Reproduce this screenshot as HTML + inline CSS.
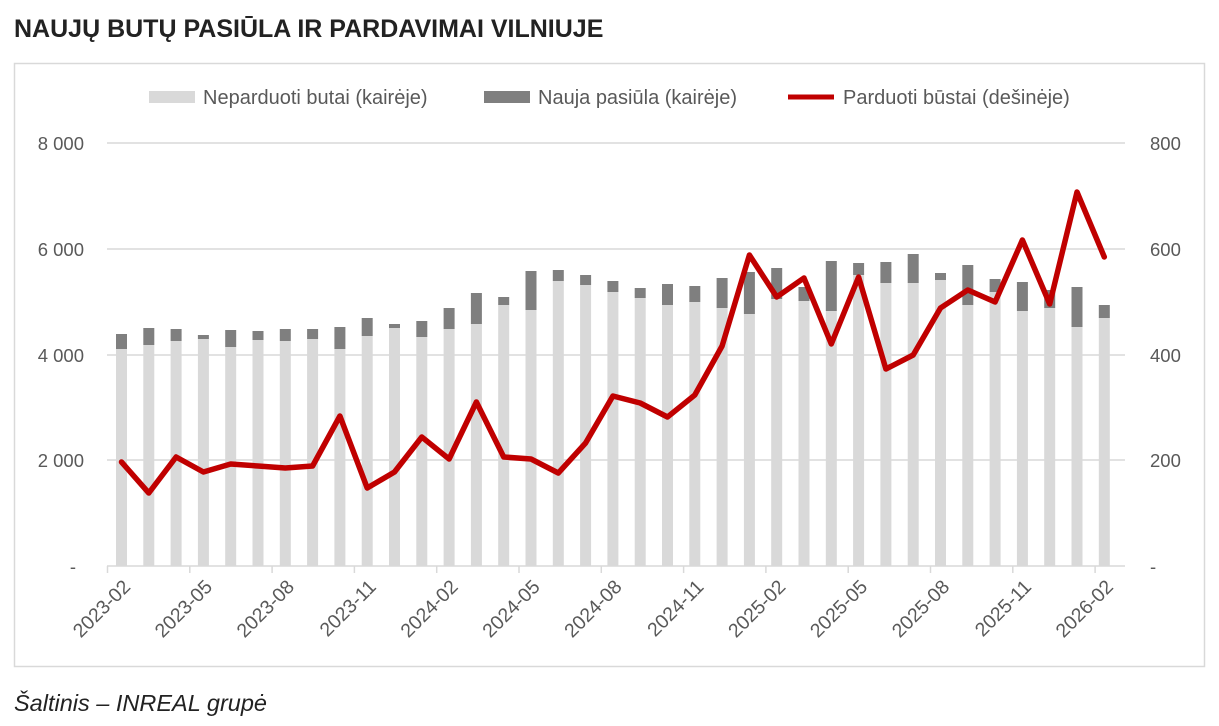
<!DOCTYPE html>
<html><head><meta charset="utf-8"><style>
body{margin:0;background:#fff;width:1219px;height:721px;overflow:hidden;font-family:"Liberation Sans",sans-serif;}
</style></head><body>
<svg width="1219" height="721" xmlns="http://www.w3.org/2000/svg" font-family="Liberation Sans, sans-serif">
<text x="14" y="37" font-size="25" font-weight="bold" fill="#222">NAUJŲ BUTŲ PASIŪLA IR PARDAVIMAI VILNIUJE</text>
<rect x="14.5" y="63.5" width="1190" height="603" fill="none" stroke="#d9d9d9" stroke-width="1.5"/>
<rect x="149" y="91" width="46" height="12" fill="#d9d9d9"/>
<text x="203" y="104" font-size="20" fill="#595959">Neparduoti butai (kairėje)</text>
<rect x="484" y="91" width="46" height="12" fill="#7f7f7f"/>
<text x="538" y="104" font-size="20" fill="#595959">Nauja pasiūla (kairėje)</text>
<line x1="788" y1="97" x2="834" y2="97" stroke="#c00000" stroke-width="5"/>
<text x="843" y="104" font-size="20" fill="#595959">Parduoti būstai (dešinėje)</text>
<g stroke="#d9d9d9" stroke-width="1.5">
<line x1="107" y1="143" x2="1125" y2="143"/><line x1="107" y1="249" x2="1125" y2="249"/>
<line x1="107" y1="355" x2="1125" y2="355"/><line x1="107" y1="460" x2="1125" y2="460"/>
<line x1="107" y1="566" x2="1125" y2="566"/>
</g>
<g font-size="18.5" fill="#595959" text-anchor="end">
<text x="84" y="150">8 000</text><text x="84" y="256">6 000</text><text x="84" y="362">4 000</text><text x="84" y="467">2 000</text><text x="76" y="573">-</text>
</g>
<g font-size="18.5" fill="#595959">
<text x="1150" y="150">800</text><text x="1150" y="256">600</text><text x="1150" y="362">400</text><text x="1150" y="467">200</text><text x="1150" y="573">-</text>
</g>
<g id="bars"></g>
<g id="ticks" stroke="#d9d9d9" stroke-width="1.5"></g>
<g id="xl" font-size="19.5" fill="#595959" text-anchor="end"></g>
<polyline id="ln" fill="none" stroke="#c00000" stroke-width="5.5" stroke-linejoin="round" stroke-linecap="round"/>
<text x="14" y="711" font-size="23.5" font-style="italic" fill="#222">Šaltinis – INREAL grupė</text>
</svg>
<script>
var dark=[334,328,329,335,330,331,329,329,327,318,324,321,308,293,297,271,270,275,281,288,284,286,278,272,268,287,261,263,262,254,273,265,279,282,290,287,305];
var light=[349,345,341,339,347,340,341,339,349,336,328,337,329,324,305,310,281,285,292,298,305,302,308,314,299,301,311,275,283,283,280,305,292,311,308,327,318];
var line=[462,493,457,472,464,466,468,466,416,488,472,437,459,402,457,459,473,443,396,403,417,395,346,255,297,278,344,277,369,355,308,290,302,240,304,192,257];
var ns="http://www.w3.org/2000/svg",b=document.getElementById('bars'),pts=[];
function X(i){return 121.5+i*27.3;}
for(var i=0;i<37;i++){var x=X(i);
var r=document.createElementNS(ns,'rect');r.setAttribute('x',x-5.5);r.setAttribute('y',dark[i]);r.setAttribute('width',11);r.setAttribute('height',light[i]-dark[i]);r.setAttribute('fill','#7f7f7f');b.appendChild(r);
r=document.createElementNS(ns,'rect');r.setAttribute('x',x-5.5);r.setAttribute('y',light[i]);r.setAttribute('width',11);r.setAttribute('height',566-light[i]);r.setAttribute('fill','#d9d9d9');b.appendChild(r);
pts.push(x+','+line[i]);}
document.getElementById('ln').setAttribute('points',pts.join(' '));
var lab=['2023-02','2023-05','2023-08','2023-11','2024-02','2024-05','2024-08','2024-11','2025-02','2025-05','2025-08','2025-11','2026-02'];
var t=document.getElementById('ticks'),xl=document.getElementById('xl');
for(var k=0;k<13;k++){var tx=107.5+k*82.3;
var l=document.createElementNS(ns,'line');l.setAttribute('x1',tx);l.setAttribute('x2',tx);l.setAttribute('y1',566);l.setAttribute('y2',573);t.appendChild(l);
var c=X(k*3);var tt=document.createElementNS(ns,'text');tt.setAttribute('transform','translate('+(c+10)+',588) rotate(-45)');tt.textContent=lab[k];xl.appendChild(tt);}
</script>
</body></html>
